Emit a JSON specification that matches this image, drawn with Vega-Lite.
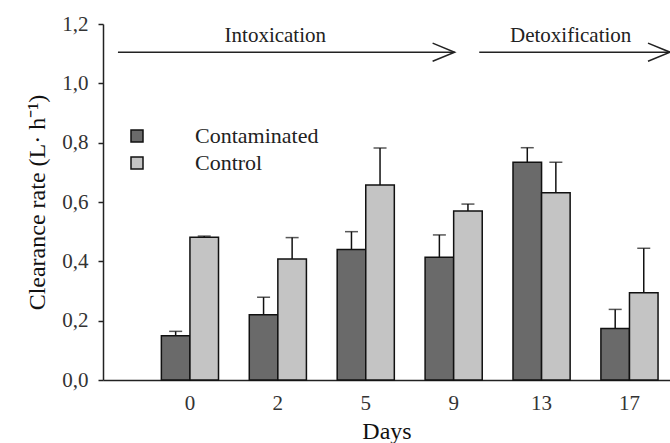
{
  "$schema": "https://vega.github.io/schema/vega-lite/v6.json",
  "width": 567,
  "height": 356,
  "autosize": {"type": "none"},
  "padding": {"left": 103, "top": 24, "right": 0, "bottom": 63},
  "config": {
    "view": {"stroke": null},
    "font": "Liberation Serif",
    "axis": {
      "domainColor": "#222",
      "domainWidth": 1.5,
      "tickColor": "#222",
      "tickWidth": 1.5,
      "labelFont": "Liberation Serif",
      "titleFont": "Liberation Serif",
      "labelColor": "#333",
      "titleColor": "#111",
      "labelFontSize": 21,
      "titleFontSize": 24,
      "titleFontWeight": "normal",
      "grid": false
    }
  },
  "layer": [
    {
      "data": {
        "values": [
          {"day": "0", "group": "Contaminated", "value": 0.149, "upper": 0.164},
          {"day": "0", "group": "Control", "value": 0.481, "upper": 0.485},
          {"day": "2", "group": "Contaminated", "value": 0.22, "upper": 0.279},
          {"day": "2", "group": "Control", "value": 0.408, "upper": 0.48},
          {"day": "5", "group": "Contaminated", "value": 0.44, "upper": 0.5},
          {"day": "5", "group": "Control", "value": 0.657, "upper": 0.782},
          {"day": "9", "group": "Contaminated", "value": 0.414, "upper": 0.489},
          {"day": "9", "group": "Control", "value": 0.57, "upper": 0.593},
          {"day": "13", "group": "Contaminated", "value": 0.734, "upper": 0.783},
          {"day": "13", "group": "Control", "value": 0.631, "upper": 0.734},
          {"day": "17", "group": "Contaminated", "value": 0.174, "upper": 0.238},
          {"day": "17", "group": "Control", "value": 0.294, "upper": 0.444}
        ]
      },
      "encoding": {
        "x": {
          "field": "day",
          "type": "ordinal",
          "sort": ["0", "2", "5", "9", "13", "17"],
          "scale": {"paddingInner": 0.35, "paddingOuter": 0.4, "align": 0.83},
          "axis": {"title": "Days", "labelAngle": 0, "ticks": false, "labelPadding": 12, "titlePadding": 6}
        },
        "xOffset": {
          "field": "group",
          "type": "nominal",
          "sort": ["Contaminated", "Control"],
          "scale": {"paddingInner": 0, "paddingOuter": 0}
        },
        "y": {
          "field": "value",
          "type": "quantitative",
          "scale": {"domain": [0, 1.2], "nice": false},
          "axis": {
            "title": "Clearance rate (L· h⁻¹)",
            "values": [0, 0.2, 0.4, 0.6, 0.8, 1.0, 1.2],
            "labelExpr": "replace(format(datum.value, '.1f'), '.', ',')",
            "tickSize": 5,
            "labelPadding": 10,
            "titlePadding": 12
          }
        }
      },
      "layer": [
        {
          "mark": {"type": "rule", "strokeWidth": 1.5, "color": "#111"},
          "encoding": {
            "y": {"field": "value", "type": "quantitative", "title": "Clearance rate (L· h⁻¹)"},
            "y2": {"field": "upper"}
          }
        },
        {
          "mark": {"type": "tick", "size": 13, "thickness": 1.5, "color": "#111"},
          "encoding": {
            "y": {"field": "upper", "type": "quantitative", "title": "Clearance rate (L· h⁻¹)"}
          }
        },
        {
          "mark": {"type": "bar", "stroke": "#111", "strokeWidth": 1.5},
          "encoding": {
            "color": {
              "field": "group",
              "type": "nominal",
              "sort": ["Contaminated", "Control"],
              "scale": {"domain": ["Contaminated", "Control"], "range": ["#6a6a6a", "#c4c4c4"]},
              "legend": {
                "title": null,
                "orient": "none",
                "legendX": 23,
                "legendY": 101,
                "padding": 0,
                "symbolType": "square",
                "symbolSize": 144,
                "symbolStrokeColor": "#111",
                "symbolStrokeWidth": 1.5,
                "symbolOpacity": 1,
                "labelFont": "Liberation Serif",
                "labelFontSize": 22,
                "labelColor": "#222",
                "labelOffset": 47,
                "rowPadding": 5
              }
            }
          }
        }
      ]
    },
    {
      "data": {
        "values": [
          {"phase": "Intoxication", "start": -0.82, "end": 3.01, "mid": 0.97, "level": 1.105, "labelLevel": 1.16},
          {"phase": "Detoxification", "start": 3.29, "end": 5.46, "mid": 4.33, "level": 1.105, "labelLevel": 1.16}
        ]
      },
      "layer": [
        {
          "mark": {"type": "rule", "strokeWidth": 1.5, "color": "#222"},
          "encoding": {
            "x": {"field": "start", "type": "quantitative", "scale": {"domain": [-0.99, 5.46], "nice": false, "zero": false}, "axis": null},
            "x2": {"field": "end"},
            "y": {"field": "level", "type": "quantitative", "title": "Clearance rate (L· h⁻¹)"}
          }
        },
        {
          "mark": {"type": "point", "shape": "M-1,-0.41L0,0L-1,0.41", "filled": false, "stroke": "#222", "strokeWidth": 1.5, "size": 1936, "opacity": 1},
          "encoding": {
            "x": {"field": "end", "type": "quantitative", "scale": {"domain": [-0.99, 5.46], "nice": false, "zero": false}, "axis": null},
            "y": {"field": "level", "type": "quantitative", "title": "Clearance rate (L· h⁻¹)"}
          }
        },
        {
          "mark": {"type": "text", "font": "Liberation Serif", "fontSize": 21, "color": "#222", "baseline": "middle"},
          "encoding": {
            "x": {"field": "mid", "type": "quantitative", "scale": {"domain": [-0.99, 5.46], "nice": false, "zero": false}, "axis": null},
            "y": {"field": "labelLevel", "type": "quantitative", "title": "Clearance rate (L· h⁻¹)"},
            "text": {"field": "phase"}
          }
        }
      ]
    }
  ],
  "resolve": {"scale": {"x": "independent"}}
}
